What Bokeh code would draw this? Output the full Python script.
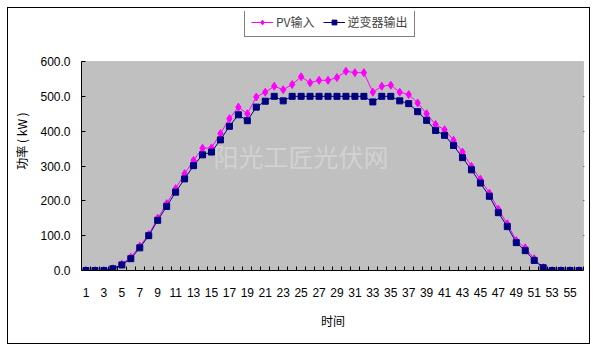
from bokeh.plotting import figure
from bokeh.models import (FixedTicker, NumeralTickFormatter, Legend, LegendItem,
                          Label, Range1d, BoxAnnotation)
from bokeh.embed import file_html
from bokeh.resources import INLINE

categories = list(range(1, 57))
pv_input = [0, 0, 0, 5, 18, 38, 70, 103, 150, 192, 235, 278, 316, 351, 352, 393,
            436, 469, 450, 498, 512, 529, 519, 534, 556, 539, 546, 546, 554, 572,
            568, 568, 512, 529, 532, 512, 505, 481, 450, 419, 404, 374, 340, 299,
            262, 222, 176, 134, 86, 65, 34, 8, 0, 0, 0, 0]
inverter_out = [0, 0, 0, 5, 16, 34, 65, 100, 144, 184, 225, 263, 301, 332, 340, 375,
                414, 447, 430, 469, 486, 500, 487, 500, 500, 500, 500, 500, 500, 500,
                500, 500, 484, 500, 500, 487, 479, 456, 431, 402, 388, 359, 324, 289,
                251, 213, 166, 126, 80, 57, 29, 8, 0, 0, 0, 0]
x_tick_labels = [str(i) for i in range(1, 56, 2)]
y_ticks = [0, 100, 200, 300, 400, 500, 600]
y_max = 600

# frame extends above the plot area so the legend can sit in it
p = figure(width=581, height=335, output_backend="svg", toolbar_location=None,
           title=None,
           x_range=Range1d(0.5, 56.5 + 56 / 502), y_range=Range1d(0, 600 * 259 / 209),
           min_border_left=73, min_border_right=5, min_border_top=3, min_border_bottom=73,
           margin=(8, 0, 0, 8),
           styles={"outline": "1px solid black", "outline-offset": "0px"})
p.background_fill_color = "white"
p.border_fill_color = "white"
p.outline_line_color = None

# plot area
p.add_layout(BoxAnnotation(left=0.5, right=56.5, bottom=0, top=y_max,
                           fill_color="#C0C0C0", fill_alpha=1,
                           line_color="#808080", line_width=1, level="underlay"))

# axes
xt = FixedTicker(ticks=[float(v) for v in x_tick_labels],
                 minor_ticks=[i + 0.5 for i in range(0, 57)])
p.xaxis.ticker = xt
p.xaxis.bounds = (0.5, 56.5)
p.xaxis.major_label_overrides = {float(v): v for v in x_tick_labels}
p.xaxis.major_tick_in = 0
p.xaxis.major_tick_out = 0
p.xaxis.minor_tick_in = 4
p.xaxis.minor_tick_out = 0
p.xaxis.minor_tick_line_color = "black"
p.xaxis.major_label_standoff = 17
p.xaxis.axis_label = "时间"
p.xaxis.axis_label_standoff = 12

p.yaxis.ticker = FixedTicker(ticks=y_ticks, minor_ticks=[])
p.yaxis.bounds = (0, y_max)
p.yaxis.formatter = NumeralTickFormatter(format="0.0")
p.yaxis.major_tick_in = 4
p.yaxis.major_tick_out = 0
p.yaxis.major_label_standoff = 11
p.yaxis.axis_label = "功率 ( kW )"
p.yaxis.axis_label_standoff = 7

for ax in (p.xaxis[0], p.yaxis[0]):
    ax.major_label_text_font = "Liberation Sans"
    ax.major_label_text_font_size = "12px"
    ax.major_label_text_color = "black"
    ax.axis_label_text_font = "Noto Sans CJK SC"
    ax.axis_label_text_font_size = "12px"
    ax.axis_label_text_font_style = "normal"
    ax.axis_label_text_color = "black"
    ax.axis_line_color = "black"

p.xgrid.visible = False
p.ygrid.ticker = FixedTicker(ticks=[100, 200, 300, 400, 500])
p.ygrid.bounds = (0.5, 56.5)
p.ygrid.grid_line_color = "black"
p.ygrid.grid_line_width = 1

# watermark
p.add_layout(Label(x=132, y=115, x_units="screen", y_units="screen",
                   text="阳光工匠光伏网", text_font="Noto Sans CJK SC",
                   text_font_size="25px", text_color="#d2d2d2",
                   text_baseline="middle", level="underlay"))

# series
pv_line = p.line(categories, pv_input, line_color="#FF00FF", line_width=1)
pv_mark = p.scatter(categories, pv_input, marker="diamond", size=8,
                    fill_color="#FF00FF", line_color="#FF00FF")
inv_line = p.line(categories, inverter_out, line_color="#000080", line_width=1)
inv_mark = p.scatter(categories, inverter_out, marker="square", size=6,
                     fill_color="#000080", line_color="#000080")

legend = Legend(items=[LegendItem(label="PV输入", renderers=[pv_line, pv_mark]),
                       LegendItem(label="逆变器输出", renderers=[inv_line, inv_mark])],
                location=(163, 233), orientation="horizontal",
                border_line_color="black", border_line_width=1,
                background_fill_color="white", background_fill_alpha=1,
                label_text_font="Noto Sans CJK SC", label_text_font_size="12px",
                glyph_width=22, glyph_height=12, label_standoff=3, spacing=8,
                padding=6, margin=0, label_height=12)
p.add_layout(legend, "center")

open("out.html", "w").write(file_html(p, INLINE))
